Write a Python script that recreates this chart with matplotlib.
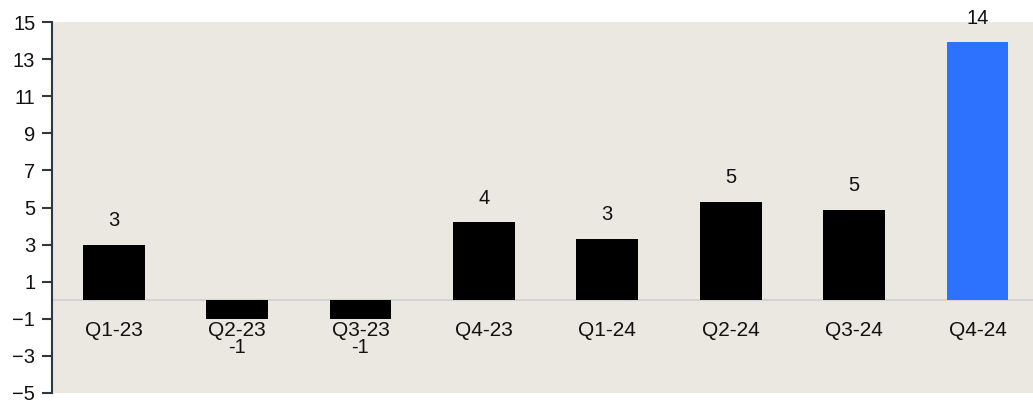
import matplotlib
matplotlib.use("Agg")
import matplotlib.pyplot as plt
import numpy as np

categories = ["Q1-23", "Q2-23", "Q3-23", "Q4-23", "Q1-24", "Q2-24", "Q3-24", "Q4-24"]
values = [3.0, -1.0, -1.0, 4.2, 3.3, 5.3, 4.85, 13.9]
labels = ["3", "-1", "-1", "4", "3", "5", "5", "14"]
colors = ["#000000"] * 7 + ["#2D72FF"]
yticks = list(range(-5, 16, 2))

plt.rcParams['font.family'] = ['Liberation Sans', 'DejaVu Sans']
FS = 14.5

fig = plt.figure(figsize=(10.33, 4.01), dpi=100)
ax = fig.add_axes([0.0503, 0.02, 0.9497, 0.925])
ax.set_facecolor("#EBE8E2")
x = np.arange(len(categories))
ax.bar(x, values, width=0.5, color=colors, zorder=3)
ax.axhline(0, color="#D4D4D4", lw=1.5, zorder=2)
ax.set_xlim(-0.5, 7.45)
ax.set_ylim(-5, 15)
ax.set_yticks(yticks)
ax.tick_params(axis='y', labelsize=FS, length=7, width=1.5, color="#2B3A42",
               labelcolor="#111111", pad=5)
ax.set_xticks([])
for s in ["top", "right", "bottom"]:
    ax.spines[s].set_visible(False)
ax.spines["left"].set_color("#2B3A42")
ax.spines["left"].set_linewidth(1.5)

for xi, v, lab, cat in zip(x, values, labels, categories):
    if v >= 0:
        ax.annotate(lab, (xi, v), xytext=(0, 17.5), textcoords="offset points",
                    ha="center", va="center", fontsize=FS, color="#111111")
    else:
        ax.annotate(lab, (xi, v), xytext=(0, -21), textcoords="offset points",
                    ha="center", va="center", fontsize=FS, color="#111111")
    ax.annotate(cat, (xi, 0), xytext=(0, -21.5), textcoords="offset points",
                ha="center", va="center", fontsize=15, color="#111111")

fig.savefig("out.png", dpi=100, facecolor="white")
